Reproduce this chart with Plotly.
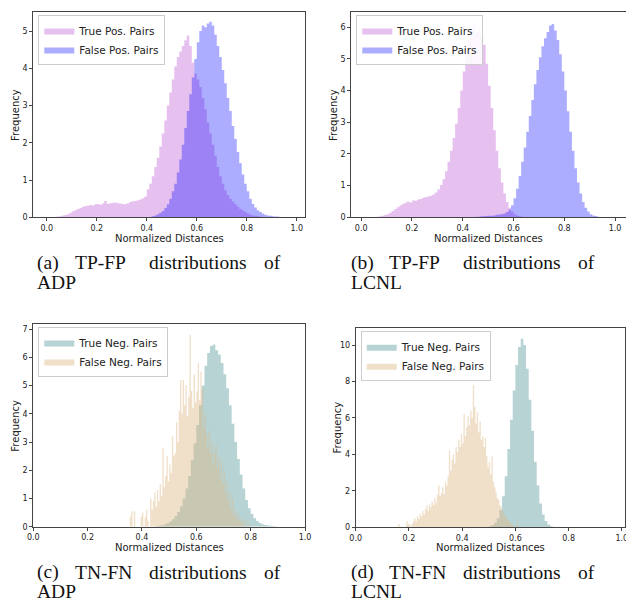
import numpy as np
import plotly.graph_objects as go
from plotly.subplots import make_subplots

W, H = 626, 602

# histogram heights (density), one value per bin
# smooth series: 0.01 wide bins, spiky false-negative series: 0.005 wide bins

# (a) ADP, TP-FP
tp_a_start = 0.04
tp_a = [0.02, 0.03, 0.05, 0.06, 0.08, 0.12, 0.16, 0.19, 0.22, 0.25, 0.28, 0.30, 0.31, 0.33, 0.32,
        0.35, 0.36, 0.34, 0.37, 0.44, 0.36, 0.38, 0.39, 0.40, 0.38, 0.37, 0.36, 0.35, 0.38, 0.41,
        0.43, 0.44, 0.46, 0.48, 0.51, 0.56, 0.75, 0.90, 1.10, 1.35, 1.60, 1.90, 2.25, 2.60, 3.00,
        3.35, 3.70, 4.05, 4.30, 4.45, 4.60, 4.75, 4.88, 4.60, 4.15, 3.85, 3.70, 3.50, 3.20, 2.90,
        2.55, 2.25, 1.95, 1.65, 1.35, 1.10, 0.90, 0.72, 0.60, 0.50, 0.42, 0.35, 0.28, 0.22, 0.18,
        0.14, 0.10, 0.07, 0.05, 0.04, 0.03, 0.02, 0.01, 0.01]
fp_a_start = 0.42
fp_a = [0.03, 0.05, 0.08, 0.12, 0.17, 0.25, 0.35, 0.50, 0.70, 0.90, 1.20, 1.55, 1.95, 2.40, 2.85,
        3.30, 3.75, 4.25, 4.70, 5.00, 5.15, 5.10, 5.20, 5.25, 5.15, 4.90, 4.60, 4.30, 3.95, 3.60,
        3.20, 2.85, 2.45, 2.10, 1.75, 1.45, 1.15, 0.90, 0.70, 0.50, 0.36, 0.26, 0.19, 0.14, 0.10,
        0.07, 0.05, 0.04, 0.03, 0.02, 0.02, 0.01, 0.01, 0.01, 0.01, 0.01, 0.01]

# (b) LCNL, TP-FP
tp_b_start = 0.05
tp_b = [0.01, 0.02, 0.03, 0.05, 0.07, 0.10, 0.14, 0.20, 0.26, 0.32, 0.37, 0.42, 0.46, 0.50, 0.47,
        0.53, 0.52, 0.56, 0.58, 0.62, 0.64, 0.66, 0.68, 0.72, 0.78, 0.88, 1.02, 1.20, 1.45, 1.75,
        2.10, 2.50, 2.95, 3.45, 4.00, 4.60, 5.15, 5.60, 5.95, 6.10, 5.85, 5.90, 5.75, 5.45, 4.85,
        4.15, 3.45, 2.75, 2.10, 1.55, 1.10, 0.75, 0.48, 0.30, 0.18, 0.10, 0.06, 0.03, 0.02, 0.01]
fp_b_start = 0.45
fp_b = [0.02, 0.02, 0.03, 0.03, 0.04, 0.05, 0.05, 0.06, 0.08, 0.09, 0.10, 0.12, 0.17, 0.25, 0.38,
        0.60, 0.90, 1.30, 1.75, 2.20, 2.70, 3.20, 3.70, 4.20, 4.65, 5.05, 5.40, 5.65, 5.85, 6.05,
        6.10, 5.90, 5.60, 5.15, 4.60, 4.00, 3.35, 2.70, 2.10, 1.55, 1.10, 0.75, 0.48, 0.30, 0.18,
        0.10, 0.06, 0.04, 0.02, 0.01]

# (c) ADP, TN-FN
tn_c_start = 0.45
tn_c = [0.02, 0.03, 0.05, 0.08, 0.12, 0.18, 0.26, 0.38, 0.52, 0.72, 1.00, 1.35, 1.80, 2.35, 2.95,
        3.60, 4.30, 5.00, 5.70, 6.15, 6.40, 6.45, 6.25, 6.10, 5.80, 5.40, 4.90, 4.30, 3.65, 3.00,
        2.40, 1.85, 1.35, 0.95, 0.65, 0.45, 0.30, 0.20, 0.13, 0.09, 0.06, 0.04, 0.03, 0.02, 0.01]
fn_c_start = 0.355
fn_c = [0.35, 0.55, 0.0, 0.55, 0.0, 0.0, 0.0, 0.0, 0.35, 0.50, 0.0, 0.35, 0.60, 0.20, 0.0,
        1.00, 0.60, 0.90, 1.20, 0.70, 1.30, 0.90, 1.50, 1.10, 2.80, 1.40, 1.80, 2.50, 1.60, 2.20,
        1.90, 3.20, 2.50, 2.60, 3.70, 3.00, 4.10, 5.20, 4.00, 5.20, 4.30, 5.00, 3.90, 4.60, 6.80,
        4.80, 4.20, 5.40, 4.40, 4.80, 5.80, 4.50, 5.50, 4.90, 3.50, 4.00, 3.30, 2.80, 3.40, 2.60,
        3.00, 2.20, 2.60, 2.90, 2.10, 2.50, 1.70, 2.30, 1.50, 2.00, 1.20, 1.60, 0.90, 1.20, 0.60,
        1.00, 0.40, 0.60, 0.30, 0.50, 0.20, 0.30, 0.10, 0.20, 0.0, 0.25, 0.0, 0.10]

# (d) LCNL, TN-FN
tn_d_start = 0.49
tn_d = [0.02, 0.05, 0.12, 0.25, 0.50, 0.95, 1.70, 2.80, 4.30, 5.90, 7.50, 8.90, 9.90, 10.35, 10.00,
        8.70, 7.00, 5.30, 3.60, 2.30, 1.30, 0.70, 0.35, 0.15, 0.06, 0.02]
fn_d_start = 0.16
fn_d = [0.18, 0.0, 0.0, 0.0, 0.0, 0.0, 0.35, 0.15, 0.20, 0.0, 0.20, 0.35, 0.50, 0.30, 0.60,
        0.45, 0.75, 0.60, 0.90, 0.70, 1.00, 1.20, 0.90, 1.25, 1.10, 1.40, 1.20, 1.60, 1.35, 1.80,
        2.30, 1.70, 1.90, 2.20, 1.80, 2.50, 2.30, 2.80, 4.20, 3.10, 3.70, 4.00, 3.50, 4.40, 4.10,
        4.80, 4.40, 5.10, 4.60, 6.20, 5.00, 5.50, 6.10, 5.60, 6.40, 6.00, 7.80, 6.60, 5.70, 6.30,
        5.20, 5.80, 4.80, 5.00, 4.40, 4.90, 3.90, 3.30, 3.60, 2.90, 3.90, 2.50, 2.20, 1.90, 1.60,
        1.50, 1.20, 1.10, 0.90, 0.70, 0.60, 0.50, 0.40, 0.30, 0.25, 0.15, 0.10, 0.0, 0.0, 0.25, 0.0]

pos_names = ["True Pos. Pairs", "False Pos. Pairs"]
neg_names = ["True Neg. Pairs", "False Neg. Pairs"]
captions = [["(a)", "TP-FP", "distributions", "of", "ADP"],
            ["(b)", "TP-FP", "distributions", "of", "LCNL"],
            ["(c)", "TN-FN", "distributions", "of", "ADP"],
            ["(d)", "TN-FN", "distributions", "of", "LCNL"]]

c_tp = "rgba(186,85,211,0.37)"
c_fp = "rgba(0,0,255,0.32)"
c_tn = "rgba(95,158,160,0.45)"
c_fn = "rgba(222,184,135,0.45)"


def px_x(p):
    return p / W


def px_y(p):
    return 1 - p / H


def hist_trace(start, vals, width, color, name, legend):
    # step outline of the histogram, filled down to zero
    edges = start + width * np.arange(len(vals) + 1)
    ys = list(vals) + [0]
    return go.Scatter(x=edges, y=ys, mode="lines", line=dict(width=0, shape="hv"),
                      fill="tozeroy", fillcolor=color, name=name, legend=legend,
                      hoverinfo="skip")


# pixel boxes of the four axes: left, right, top, bottom
boxes = [(33.3, 305, 12, 217.3), (351.3, 625.5, 12, 217.3),
         (33.3, 305, 324, 526.7), (355.7, 624.5, 328.3, 527.3)]
xranges = [[-0.054, 1.033], [-0.039, 1.041], [0, 1.0], [0, 1.01]]
yranges = [[0, 5.51], [0, 6.48], [0, 7.18], [0, 10.92]]
ytickvals = [[0, 1, 2, 3, 4, 5], [0, 1, 2, 3, 4, 5, 6], [0, 1, 2, 3, 4, 5, 6, 7], [0, 2, 4, 6, 8, 10]]

fig = make_subplots(rows=2, cols=2)

series = [
    [(tp_a_start, tp_a, 0.01, c_tp, pos_names[0]), (fp_a_start, fp_a, 0.01, c_fp, pos_names[1])],
    [(tp_b_start, tp_b, 0.01, c_tp, pos_names[0]), (fp_b_start, fp_b, 0.01, c_fp, pos_names[1])],
    [(tn_c_start, tn_c, 0.01, c_tn, neg_names[0]), (fn_c_start, fn_c, 0.005, c_fn, neg_names[1])],
    [(tn_d_start, tn_d, 0.01, c_tn, neg_names[0]), (fn_d_start, fn_d, 0.005, c_fn, neg_names[1])],
]
legends = ["legend", "legend2", "legend3", "legend4"]

for i, ser in enumerate(series):
    r, c = i // 2 + 1, i % 2 + 1
    for start, vals, w, col, name in ser:
        fig.add_trace(hist_trace(start, vals, w, col, name, legends[i]), row=r, col=c)

axis_font = dict(family="DejaVu Sans", size=8, color="#222")
label_font = dict(family="DejaVu Sans", size=10, color="#222")
cap_font = dict(family="Liberation Serif", size=19.5, color="#111")

annotations = []
for i, (l, rgt, top, bot) in enumerate(boxes):
    xa = "xaxis" if i == 0 else "xaxis%d" % (i + 1)
    ya = "yaxis" if i == 0 else "yaxis%d" % (i + 1)
    fig.layout[xa].update(domain=[px_x(l), px_x(rgt)], range=xranges[i],
                          tickvals=[0, 0.2, 0.4, 0.6, 0.8, 1.0], tickformat=".1f")
    fig.layout[ya].update(domain=[px_y(bot), px_y(top)], range=yranges[i], tickvals=ytickvals[i])

    # legend in the upper left corner
    lg = legends[i]
    fig.layout[lg] = dict(x=px_x(l + 5), y=px_y(top + 3), xanchor="left", yanchor="top",
                          bgcolor="rgba(255,255,255,0.85)", bordercolor="#cccccc", borderwidth=1,
                          font=dict(family="DejaVu Sans", size=10.5, color="#222"),
                          itemwidth=30, tracegroupgap=0)

    # axis labels
    xlab_y = 238 if i < 2 else 547.5
    annotations.append(dict(text="Normalized Distances", x=px_x((l + rgt) / 2), y=px_y(xlab_y),
                            xref="paper", yref="paper", showarrow=False, font=label_font,
                            xanchor="center", yanchor="middle"))
    annotations.append(dict(text="Frequency", x=px_x(l - 18), y=px_y((top + bot) / 2),
                            xref="paper", yref="paper", showarrow=False, font=label_font,
                            textangle=-90, xanchor="center", yanchor="middle"))

    # justified two-line caption under each panel
    x0 = 35 if i % 2 == 0 else 349
    y1 = 263 if i < 2 else 572
    y2 = 282 if i < 2 else 591
    words = captions[i]
    word_pos = [(x0, "left"), (x0 + 38, "left"), (x0 + 112, "left"), (x0 + 248, "right")]
    for (wx, anc), word in zip(word_pos, words[:4]):
        annotations.append(dict(text=word, x=px_x(wx), y=px_y(y1), xref="paper", yref="paper",
                                showarrow=False, font=cap_font, xanchor=anc, yanchor="middle"))
    annotations.append(dict(text=words[4], x=px_x(x0), y=px_y(y2), xref="paper", yref="paper",
                            showarrow=False, font=cap_font, xanchor="left", yanchor="middle"))

fig.update_xaxes(showgrid=False, zeroline=False, showline=True, mirror=True, linecolor="#444",
                 linewidth=1, ticks="outside", ticklen=3, tickcolor="#444", tickfont=axis_font,
                 automargin=False, ticklabeloverflow="allow")
fig.update_yaxes(showgrid=False, zeroline=False, showline=True, mirror=True, linecolor="#444",
                 linewidth=1, ticks="outside", ticklen=3, tickcolor="#444", tickfont=axis_font,
                 automargin=False)

fig.update_layout(width=W, height=H, autosize=False, margin=dict(l=0, r=0, t=0, b=0, pad=0),
                  paper_bgcolor="white", plot_bgcolor="white", annotations=annotations,
                  showlegend=True)

# the page body has a default 8px margin, drop it so the figure sits at the corner
fig.write_html("out.html", config={"displayModeBar": False},
               post_script="document.body.style.margin = '0';")
